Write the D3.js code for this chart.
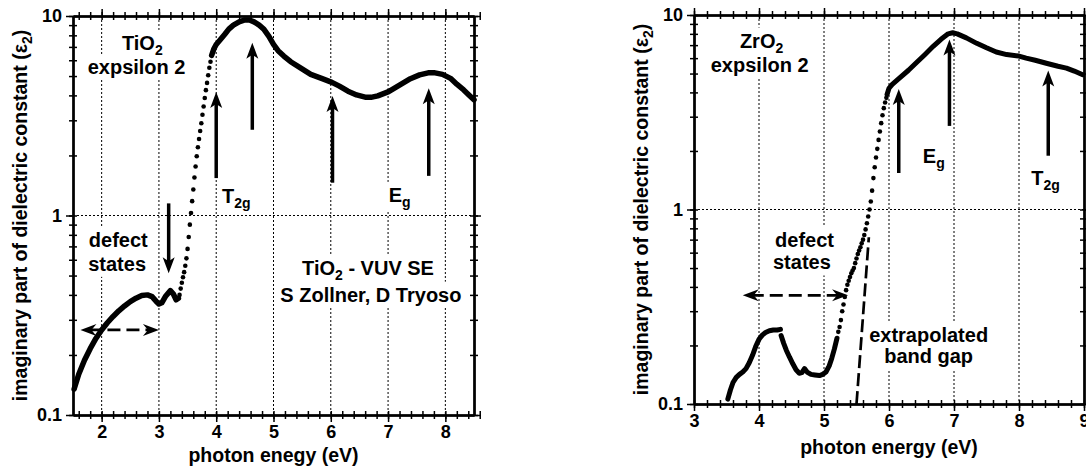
<!DOCTYPE html>
<html>
<head>
<meta charset="utf-8">
<script src="https://cdn.jsdelivr.net/npm/d3@7"></script>
<style>
  body { margin: 0; background: #fff; }
  text { font-family: "Liberation Sans", Arial, Helvetica, sans-serif; font-weight: bold; fill: #000; }
</style>
</head>
<body>
<div id="chart"></div>
<script>
// ---- TiO2 epsilon 2 ----
const tio2LowEnergy = [1.52, 1.60, 1.70, 1.80, 1.90, 2.00, 2.10, 2.20, 2.30, 2.40, 2.50, 2.60, 2.70, 2.80, 2.88, 2.95, 3.00, 3.05, 3.12, 3.20, 3.25, 3.30, 3.34];
const tio2LowEps = [0.135, 0.160, 0.188, 0.215, 0.242, 0.267, 0.290, 0.312, 0.333, 0.352, 0.370, 0.385, 0.397, 0.400, 0.392, 0.372, 0.360, 0.365, 0.395, 0.420, 0.405, 0.378, 0.385];
const tio2EdgeEnergy = [3.36, 3.38, 3.40, 3.42, 3.44, 3.46, 3.48, 3.50, 3.52, 3.54, 3.56, 3.58, 3.60, 3.62, 3.64, 3.66, 3.68, 3.70, 3.72, 3.74, 3.76, 3.78, 3.80, 3.82, 3.84, 3.86, 3.88, 3.90];
const tio2EdgeEps = [0.40, 0.43, 0.46, 0.49, 0.52, 0.56, 0.61, 0.68, 0.78, 0.90, 1.03, 1.18, 1.35, 1.55, 1.76, 1.98, 2.20, 2.42, 2.65, 2.90, 3.20, 3.52, 3.88, 4.25, 4.62, 5.05, 5.50, 5.90];
const tio2HighEnergy = [3.92, 3.96, 4.00, 4.07, 4.15, 4.22, 4.30, 4.40, 4.50, 4.58, 4.66, 4.75, 4.83, 4.92, 5.00, 5.08, 5.18, 5.30, 5.47, 5.65, 5.85, 6.02, 6.15, 6.30, 6.45, 6.60, 6.70, 6.82, 7.01, 7.20, 7.39, 7.55, 7.70, 7.80, 7.95, 8.09, 8.20, 8.32, 8.42, 8.50];
const tio2HighEps = [6.35, 6.85, 7.2, 7.6, 8.1, 8.6, 9.0, 9.35, 9.55, 9.55, 9.35, 9.0, 8.6, 7.9, 7.2, 6.7, 6.3, 5.9, 5.5, 5.1, 4.85, 4.65, 4.45, 4.2, 4.02, 3.92, 3.91, 3.98, 4.18, 4.5, 4.85, 5.07, 5.19, 5.2, 5.1, 4.87, 4.55, 4.26, 4.0, 3.8];

// ---- ZrO2 epsilon 2 ----
const zro2LowEnergy = [3.52, 3.56, 3.60, 3.65, 3.70, 3.75, 3.80, 3.85, 3.90, 3.95, 4.00, 4.05, 4.10, 4.16, 4.22, 4.28, 4.33];
const zro2LowEps = [0.106, 0.118, 0.129, 0.137, 0.142, 0.146, 0.152, 0.163, 0.178, 0.198, 0.215, 0.226, 0.233, 0.238, 0.240, 0.240, 0.242];
const zro2MidEnergy = [4.34, 4.38, 4.42, 4.47, 4.52, 4.57, 4.62, 4.66, 4.70, 4.74, 4.80, 4.86, 4.93, 4.98, 5.03, 5.08, 5.12, 5.16, 5.20];
const zro2MidEps = [0.225, 0.205, 0.189, 0.174, 0.161, 0.150, 0.144, 0.145, 0.152, 0.146, 0.142, 0.141, 0.140, 0.142, 0.146, 0.157, 0.172, 0.192, 0.218];
const zro2EdgeEnergy = [5.22, 5.24, 5.26, 5.28, 5.30, 5.32, 5.34, 5.36, 5.38, 5.40, 5.42, 5.44, 5.46, 5.48, 5.50, 5.52, 5.54, 5.56, 5.58, 5.60, 5.62, 5.64, 5.66, 5.68, 5.70, 5.72, 5.74, 5.76, 5.78, 5.80, 5.82, 5.84, 5.86, 5.88, 5.90, 5.92, 5.94, 5.96];
const zro2EdgeEps = [0.235, 0.249, 0.27, 0.30, 0.325, 0.355, 0.385, 0.41, 0.43, 0.45, 0.47, 0.485, 0.50, 0.53, 0.56, 0.59, 0.615, 0.64, 0.67, 0.70, 0.74, 0.79, 0.85, 0.92, 1.00, 1.10, 1.25, 1.45, 1.65, 1.85, 2.05, 2.28, 2.52, 2.78, 3.05, 3.32, 3.55, 3.75];
const zro2HighEnergy = [5.97, 6.00, 6.05, 6.16, 6.30, 6.42, 6.55, 6.68, 6.80, 6.91, 6.98, 7.05, 7.19, 7.35, 7.50, 7.65, 7.81, 8.00, 8.11, 8.25, 8.42, 8.60, 8.73, 8.85, 8.98];
const zro2HighEps = [3.9, 4.2, 4.4, 4.74, 5.2, 5.68, 6.25, 6.9, 7.5, 8.0, 8.1, 8.0, 7.63, 7.15, 6.78, 6.45, 6.26, 6.15, 6.0, 5.85, 5.65, 5.45, 5.33, 5.15, 4.93];

// ---- axes ----
const yMajorTicks = [0.1, 1, 10];
const yMinorTicks = [0.2, 0.3, 0.4, 0.5, 0.6, 0.7, 0.8, 0.9, 2, 3, 4, 5, 6, 7, 8, 9];
const tio2XTicks = [2, 3, 4, 5, 6, 7, 8];
const zro2XTicks = [3, 4, 5, 6, 7, 8, 9];

// ---- annotations (data coordinates) ----
const tio2Arrows = [
  { x: 4.00, from: 1.54, to: 4.16 },
  { x: 4.63, from: 2.69, to: 7.35 },
  { x: 6.03, from: 1.46, to: 3.97 },
  { x: 7.71, from: 1.58, to: 4.34 },
  { x: 3.17, from: 1.15, to: 0.513 }
];
const zro2Arrows = [
  { x: 6.15, from: 1.54, to: 4.17 },
  { x: 6.93, from: 2.69, to: 7.48 },
  { x: 8.45, from: 1.89, to: 5.19 }
];

const svg = d3.select("#chart").append("svg").attr("width", 1086).attr("height", 471);

function zip(xs, ys) { return xs.map((v, i) => [v, ys[i]]); }

function drawPanel(p) {
  const x = d3.scaleLinear().domain(p.xDomain).range([p.left, p.right]);
  const y = d3.scaleLog().domain([0.1, 10]).range([p.bottom, p.top]);
  const g = svg.append("g");

  // dotted grid
  const grid = g.append("g").attr("stroke", "#000").attr("stroke-width", 1).attr("stroke-dasharray", "2,2");
  grid.selectAll("line.gx").data(p.gridX).join("line")
    .attr("x1", d => x(d)).attr("x2", d => x(d)).attr("y1", p.top).attr("y2", p.bottom);
  grid.append("line").attr("x1", p.left).attr("x2", p.right).attr("y1", y(1)).attr("y2", y(1));

  const bg = g.append("g");
  const dataG = g.append("g");
  const txt = g.append("g");

  // text labels with white boxes behind (they cut the grid)
  p.labels.forEach(l => {
    const t = txt.append("text").attr("x", x(l.x)).attr("y", y(l.y))
      .attr("text-anchor", l.anchor || "middle").style("font-size", "20px");
    let shift = 0;
    l.parts.forEach(part => {
      if (typeof part === "string") {
        t.append("tspan").attr("dy", -shift).text(part); shift = 0;
      } else {
        t.append("tspan").attr("dy", 5).style("font-size", "14px").text(part.sub); shift = 5;
      }
    });
    const b = t.node().getBBox();
    bg.append("rect").attr("x", b.x - 3).attr("y", b.y - 2).attr("width", b.width + 6).attr("height", b.height + 4).attr("fill", "#fff");
  });

  // curves
  const line = d3.line().x(d => x(d[0])).y(d => y(d[1]));
  p.solid.forEach(s => {
    dataG.append("path").datum(s).attr("d", line).attr("fill", "none").attr("stroke", "#000")
      .attr("stroke-width", p.lw).attr("stroke-linecap", "round").attr("stroke-linejoin", "round");
  });
  p.dots.forEach(s => {
    dataG.selectAll(null).data(s).join("circle")
      .attr("cx", d => x(d[0])).attr("cy", d => y(d[1])).attr("r", 2.3).attr("fill", "#000");
  });

  // vertical arrows
  p.arrows.forEach(a => {
    const ax = x(a.x), y0 = y(a.from), yt = y(a.to);
    const dir = yt < y0 ? 1 : -1;
    dataG.append("line").attr("x1", ax).attr("x2", ax).attr("y1", y0).attr("y2", yt + dir * 10)
      .attr("stroke", "#000").attr("stroke-width", 3.5);
    dataG.append("path").attr("fill", "#000")
      .attr("d", `M${ax},${yt} L${ax - 6},${yt + dir * 16} L${ax},${yt + dir * 12} L${ax + 6},${yt + dir * 16} Z`);
  });

  // dashed horizontal double arrows
  p.hArrows.forEach(a => {
    const x1 = x(a.from), x2 = x(a.to), yy = y(a.y);
    dataG.append("line").attr("x1", x1 + 8).attr("x2", x2 - 8).attr("y1", yy).attr("y2", yy)
      .attr("stroke", "#000").attr("stroke-width", 2.6).attr("stroke-dasharray", "13,6");
    [[x1, 1], [x2, -1]].forEach(([tx, d]) => {
      dataG.append("path").attr("fill", "#000")
        .attr("d", `M${tx},${yy} L${tx + d * 16},${yy - 6} L${tx + d * 11},${yy} L${tx + d * 16},${yy + 6} Z`);
    });
  });

  // dashed extrapolation lines
  (p.extrap || []).forEach(e => {
    dataG.append("line").attr("x1", x(e[0][0])).attr("y1", y(e[0][1])).attr("x2", x(e[1][0])).attr("y2", y(e[1][1]))
      .attr("stroke", "#000").attr("stroke-width", 2.7).attr("stroke-dasharray", "13,5");
  });

  // axes: ticks cross the frame
  const minorX = d3.range(Math.round(p.xDomain[0] * 5), Math.round(p.xDomain[1] * 5) + 1).map(v => v / 5);
  const allY = yMinorTicks.concat(yMajorTicks);
  const ax = g.append("g");
  function addAxis(axis, tf) {
    const a = ax.append("g").attr("transform", tf).call(axis);
    a.select(".domain").attr("stroke-width", 2);
    a.selectAll(".tick line").attr("stroke-width", 1.5);
    a.selectAll("text").style("font-size", "18px").style("font-family", null);
    return a;
  }
  [4, -4].forEach(s => {
    addAxis(d3.axisBottom(x).tickValues(minorX).tickSize(s).tickSizeOuter(0).tickFormat(""), `translate(0,${p.bottom})`);
    addAxis(d3.axisTop(x).tickValues(minorX).tickSize(s).tickSizeOuter(0).tickFormat(""), `translate(0,${p.top})`);
    addAxis(d3.axisLeft(y).tickValues(allY).tickSize(s).tickSizeOuter(0).tickFormat(""), `translate(${p.left},0)`);
    addAxis(d3.axisRight(y).tickValues(allY).tickSize(s).tickSizeOuter(0).tickFormat(""), `translate(${p.right},0)`);
  });
  addAxis(d3.axisBottom(x).tickValues(p.xTicks).tickSize(7).tickSizeOuter(0).tickPadding(3).tickFormat(d3.format("d")), `translate(0,${p.bottom})`);
  addAxis(d3.axisTop(x).tickValues(p.xTicks).tickSize(7).tickSizeOuter(0).tickFormat(""), `translate(0,${p.top})`);
  addAxis(d3.axisLeft(y).tickValues(yMajorTicks).tickSize(7).tickSizeOuter(0).tickPadding(4).tickFormat(d => d < 1 ? "0.1" : String(d)), `translate(${p.left},0)`);
  addAxis(d3.axisRight(y).tickValues(yMajorTicks).tickSize(7).tickSizeOuter(0).tickFormat(""), `translate(${p.right},0)`);

  // axis titles
  const yt = g.append("text").attr("transform", `translate(${p.yTitleX},${(p.top + p.bottom) / 2}) rotate(-90)`)
    .attr("text-anchor", "middle").style("font-size", "19.5px");
  yt.append("tspan").text("imaginary part of dielectric constant (ε");
  yt.append("tspan").attr("dy", 5).style("font-size", "14px").text("2");
  yt.append("tspan").attr("dy", -5).text(")");
  g.append("text").attr("x", (p.left + p.right) / 2).attr("y", p.xTitleY).attr("text-anchor", "middle")
    .style("font-size", "19.5px").text(p.xTitle);
}

drawPanel({
  left: 73, right: 474, top: 16, bottom: 415, xDomain: [1.5, 8.5], xTicks: tio2XTicks,
  gridX: [2, 3, 4, 5, 6, 7, 8], lw: 5.5,
  solid: [zip(tio2LowEnergy, tio2LowEps), zip(tio2HighEnergy, tio2HighEps)],
  dots: [zip(tio2EdgeEnergy, tio2EdgeEps), [[tio2LowEnergy[0], tio2LowEps[0]]]],
  arrows: tio2Arrows,
  hArrows: [{ from: 1.63, to: 3.0, y: 0.267 }],
  labels: [
    { x: 2.71, y: 6.76, parts: ["TiO", { sub: "2" }] },
    { x: 2.61, y: 5.12, parts: ["expsilon 2"] },
    { x: 4.10, y: 1.16, anchor: "start", parts: ["T", { sub: "2g" }] },
    { x: 7.01, y: 1.17, anchor: "start", parts: ["E", { sub: "g" }] },
    { x: 2.29, y: 0.698, parts: ["defect"] },
    { x: 2.27, y: 0.528, parts: ["states"] },
    { x: 6.65, y: 0.503, parts: ["TiO", { sub: "2" }, " - VUV SE"] },
    { x: 6.70, y: 0.37, parts: ["S Zollner, D Tryoso"] }
  ],
  yTitleX: 27, xTitleY: 462, xTitle: "photon enegy (eV)"
});

drawPanel({
  left: 694, right: 1084, top: 15, bottom: 404, xDomain: [3, 9], xTicks: zro2XTicks,
  gridX: [4, 5, 6, 7, 8], lw: 5,
  solid: [zip(zro2LowEnergy, zro2LowEps), zip(zro2MidEnergy, zro2MidEps), zip(zro2HighEnergy, zro2HighEps)],
  dots: [zip(zro2EdgeEnergy, zro2EdgeEps)],
  arrows: zro2Arrows,
  hArrows: [{ from: 3.75, to: 5.37, y: 0.362 }],
  extrap: [[[5.5, 0.1], [5.69, 0.72]]],
  labels: [
    { x: 4.04, y: 6.8, parts: ["ZrO", { sub: "2" }] },
    { x: 4.01, y: 5.12, parts: ["expsilon 2"] },
    { x: 6.52, y: 1.74, anchor: "start", parts: ["E", { sub: "g" }] },
    { x: 8.19, y: 1.34, anchor: "start", parts: ["T", { sub: "2g" }] },
    { x: 4.70, y: 0.643, parts: ["defect"] },
    { x: 4.66, y: 0.492, parts: ["states"] },
    { x: 6.61, y: 0.208, parts: ["extrapolated"] },
    { x: 6.61, y: 0.162, parts: ["band gap"] }
  ],
  yTitleX: 648, xTitleY: 454, xTitle: "photon energy (eV)"
});
</script>
</body>
</html>
